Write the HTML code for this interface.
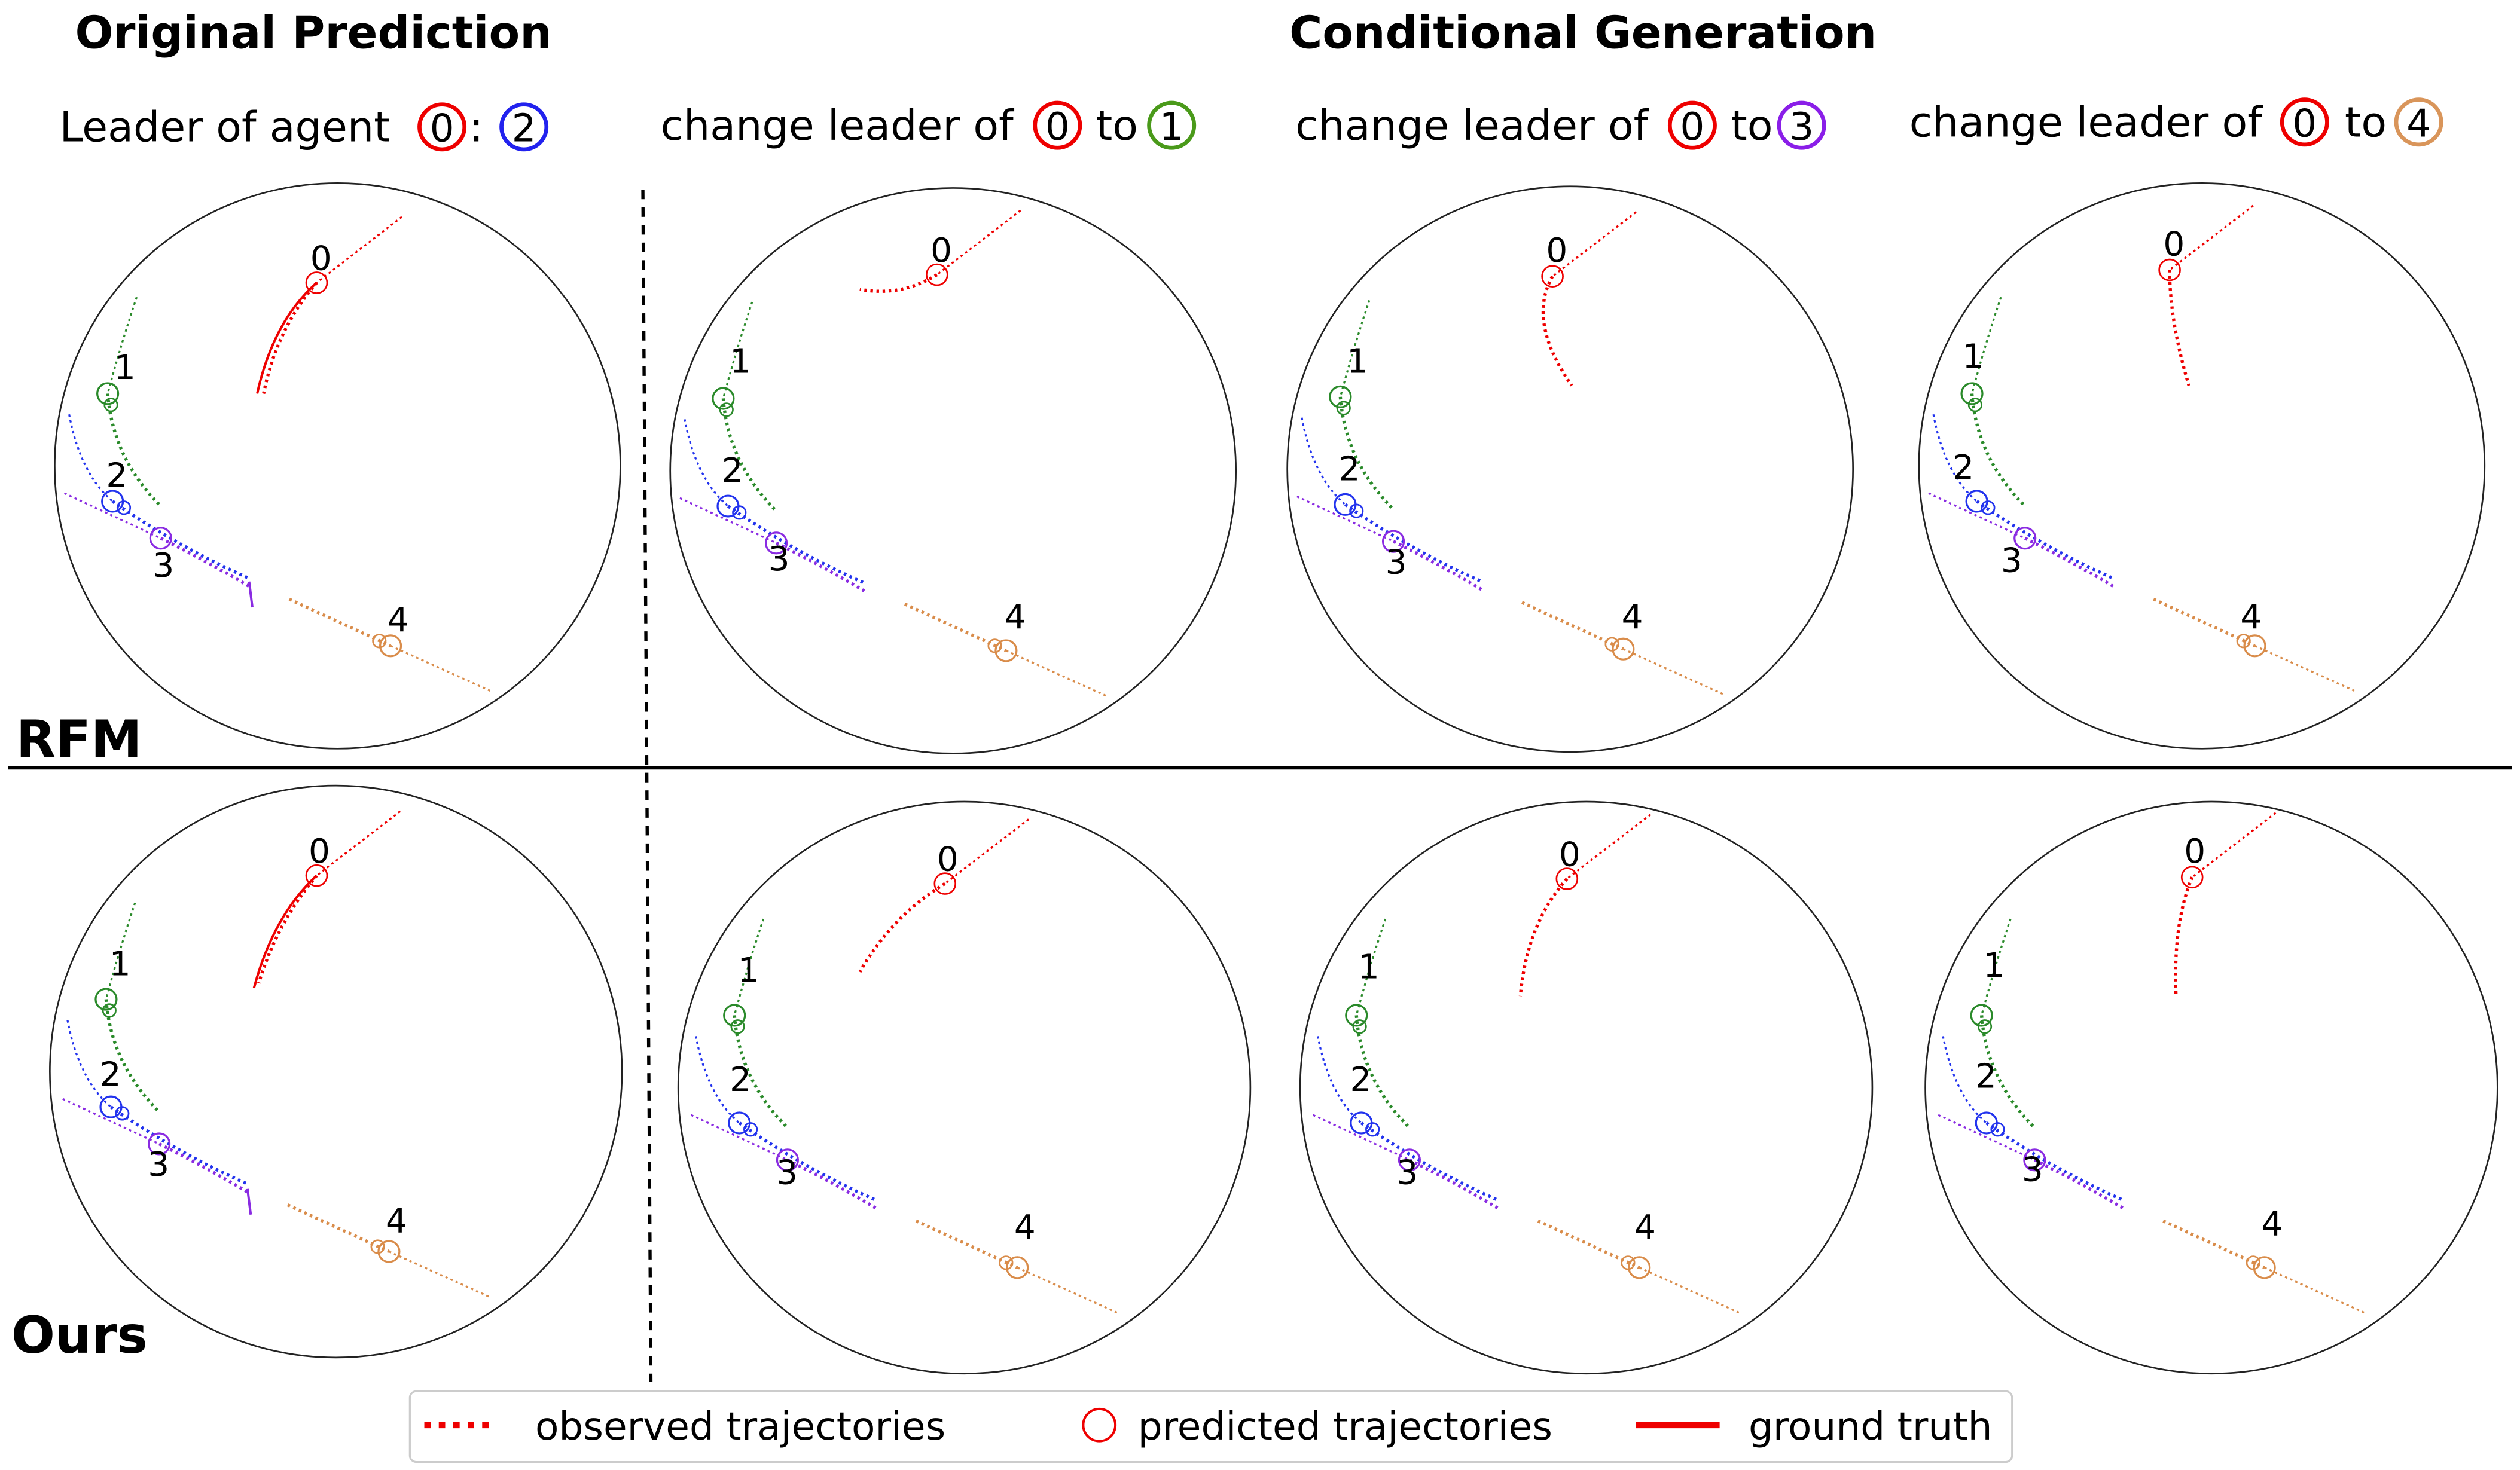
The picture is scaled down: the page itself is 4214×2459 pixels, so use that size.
<!DOCTYPE html>
<html><head><meta charset="utf-8"><style>html,body{margin:0;padding:0;background:#fff}svg{display:block}</style></head>
<body>
<svg width="4214" height="2459" viewBox="0 0 1568 915" xmlns="http://www.w3.org/2000/svg" font-family="'DejaVu Sans', 'Liberation Sans', sans-serif">
<defs>
<g id="ag" fill="none">
  <path d="M-125,-105 Q-135,-75 -143,-45" stroke="#2a8a2a" stroke-width="1.2" stroke-dasharray="1.5 2"/>
  <path d="M-143,-45 Q-140,-5 -110,25" stroke="#2a8a2a" stroke-width="2" stroke-dasharray="1.6 2.2"/>
  <circle cx="-143" cy="-45" r="6.5" stroke="#2a8a2a" stroke-width="1.2"/>
  <circle cx="-141" cy="-38" r="4" stroke="#2a8a2a" stroke-width="1"/>
  <path d="M-167,-32 Q-160,5 -140,22" stroke="#2233ee" stroke-width="1.2" stroke-dasharray="1.5 2"/>
  <path d="M-140,22 Q-100,50 -55,70" stroke="#2233ee" stroke-width="2" stroke-dasharray="1.6 2.2"/>
  <circle cx="-140" cy="22" r="6.5" stroke="#2233ee" stroke-width="1.2"/>
  <circle cx="-133" cy="26" r="4" stroke="#2233ee" stroke-width="1"/>
  <path d="M-170,17 L-110,45" stroke="#8a2be2" stroke-width="1.2" stroke-dasharray="1.5 2"/>
  <path d="M-110,45 Q-80,60 -55,75" stroke="#8a2be2" stroke-width="2" stroke-dasharray="1.6 2.2"/>
  <circle cx="-110" cy="45" r="6.5" stroke="#8a2be2" stroke-width="1.2"/>
  <path d="M-30,83 L33,112" stroke="#d98c4a" stroke-width="2" stroke-dasharray="1.6 2.2"/>
  <circle cx="33" cy="112" r="6.5" stroke="#d98c4a" stroke-width="1.2"/>
  <circle cx="26" cy="109" r="4" stroke="#d98c4a" stroke-width="1"/>
  <path d="M33,112 L95,140" stroke="#d98c4a" stroke-width="1.2" stroke-dasharray="1.5 2"/>
</g>
</defs>
<g font-weight="bold" font-size="28" text-anchor="middle">
<text x="195" y="30">Original Prediction</text>
<text x="985" y="30">Conditional Generation</text>
</g>
<g font-size="26">
<text x="37" y="88">Leader of agent</text><text x="292" y="88">:</text>
<text x="411" y="87">change leader of</text><text x="682" y="87">to</text>
<text x="806" y="87">change leader of</text><text x="1077" y="87">to</text>
<text x="1188" y="85">change leader of</text><text x="1459" y="85">to</text>
</g>
<g fill="none" stroke-width="2.5">
<circle cx="275" cy="79" r="14" stroke="#e00"/><circle cx="326" cy="79" r="14" stroke="#22e"/>
<circle cx="658" cy="78" r="14" stroke="#e00"/><circle cx="729" cy="78" r="14" stroke="#4a9a1a"/>
<circle cx="1053" cy="78" r="14" stroke="#e00"/><circle cx="1121" cy="78" r="14" stroke="#8a1ee8"/>
<circle cx="1434" cy="76" r="14" stroke="#e00"/><circle cx="1505" cy="76" r="14" stroke="#d9955a"/>
</g>
<g font-size="24" text-anchor="middle">
<text x="275" y="88">0</text><text x="326" y="88">2</text>
<text x="658" y="87">0</text><text x="729" y="87">1</text>
<text x="1053" y="87">0</text><text x="1121" y="87">3</text>
<text x="1434" y="85">0</text><text x="1505" y="85">4</text>
</g>
<line x1="400" y1="118" x2="405" y2="860" stroke="#000" stroke-width="2" stroke-dasharray="6 5"/>
<line x1="5" y1="478" x2="1563" y2="478" stroke="#000" stroke-width="2"/>
<g font-weight="bold" font-size="32"><text x="10" y="471">RFM</text><text x="7" y="842">Ours</text></g>

<g fill="none" stroke="#222" stroke-width="1">
<circle cx="210" cy="290" r="176"/><circle cx="593" cy="293" r="176"/><circle cx="977" cy="292" r="176"/><circle cx="1370" cy="290" r="176"/>
<circle cx="209" cy="667" r="178"/><circle cx="600" cy="677" r="178"/><circle cx="987" cy="677" r="178"/><circle cx="1376" cy="677" r="178"/>
</g>
<use href="#ag" transform="translate(210,290)"/>
<use href="#ag" transform="translate(593,293)"/>
<use href="#ag" transform="translate(977,292)"/>
<use href="#ag" transform="translate(1370,290)"/>
<use href="#ag" transform="translate(209,667)"/>
<use href="#ag" transform="translate(600,677)"/>
<use href="#ag" transform="translate(987,677)"/>
<use href="#ag" transform="translate(1376,677)"/>
<g stroke="#8a2be2" stroke-width="1.5" fill="none"><path d="M155,362 L157,378"/><path d="M154,740 L156,756"/></g>
<g fill="none" stroke="#e00">
<path d="M250,135 L197,176" stroke-width="1.2" stroke-dasharray="1.5 2"/><path d="M197,176 Q170,200 160,245" stroke-width="1.5"/><path d="M197,176 Q172,205 164,245" stroke-width="2" stroke-dasharray="1.6 2.2"/><circle cx="197" cy="176" r="6.5"/>
<path d="M635,131 L583,171" stroke-width="1.2" stroke-dasharray="1.5 2"/><path d="M583,171 Q560,185 535,180" stroke-width="2" stroke-dasharray="1.6 2.2"/><circle cx="583" cy="171" r="6.5"/>
<path d="M1018,132 L966,172" stroke-width="1.2" stroke-dasharray="1.5 2"/><path d="M966,172 Q950,200 978,240" stroke-width="2" stroke-dasharray="1.6 2.2"/><circle cx="966" cy="172" r="6.5"/>
<path d="M1402,128 L1350,168" stroke-width="1.2" stroke-dasharray="1.5 2"/><path d="M1350,168 Q1350,200 1362,240" stroke-width="2" stroke-dasharray="1.6 2.2"/><circle cx="1350" cy="168" r="6.5"/>
<path d="M249,505 L197,545" stroke-width="1.2" stroke-dasharray="1.5 2"/><path d="M197,545 Q170,570 158,615" stroke-width="1.5"/><path d="M197,545 Q172,575 161,612" stroke-width="2" stroke-dasharray="1.6 2.2"/><circle cx="197" cy="545" r="6.5"/>
<path d="M640,510 L588,550" stroke-width="1.2" stroke-dasharray="1.5 2"/><path d="M588,550 Q555,570 535,605" stroke-width="2" stroke-dasharray="1.6 2.2"/><circle cx="588" cy="550" r="6.5"/>
<path d="M1027,507 L975,547" stroke-width="1.2" stroke-dasharray="1.5 2"/><path d="M975,547 Q950,575 946,620" stroke-width="2" stroke-dasharray="1.6 2.2"/><circle cx="975" cy="547" r="6.5"/>
<path d="M1416,506 L1364,546" stroke-width="1.2" stroke-dasharray="1.5 2"/><path d="M1364,546 Q1352,575 1354,620" stroke-width="2" stroke-dasharray="1.6 2.2"/><circle cx="1364" cy="546" r="6.5"/>
</g>
<g font-size="21">
<text x="193" y="168">0</text><text x="71" y="236">1</text><text x="66" y="303">2</text><text x="95" y="359">3</text><text x="241" y="393">4</text>
<text x="579" y="163">0</text><text x="454" y="232">1</text><text x="449" y="300">2</text><text x="478" y="355">3</text><text x="625" y="391">4</text>
<text x="962" y="163">0</text><text x="838" y="232">1</text><text x="833" y="299">2</text><text x="862" y="357">3</text><text x="1009" y="391">4</text>
<text x="1346" y="159">0</text><text x="1221" y="229">1</text><text x="1215" y="298">2</text><text x="1245" y="356">3</text><text x="1394" y="391">4</text>
<text x="192" y="537">0</text><text x="68" y="607">1</text><text x="62" y="676">2</text><text x="92" y="732">3</text><text x="240" y="767">4</text>
<text x="583" y="542">0</text><text x="459" y="611">1</text><text x="454" y="679">2</text><text x="483" y="737">3</text><text x="631" y="771">4</text>
<text x="970" y="539">0</text><text x="845" y="609">1</text><text x="840" y="679">2</text><text x="869" y="737">3</text><text x="1017" y="771">4</text>
<text x="1359" y="537">0</text><text x="1234" y="608">1</text><text x="1229" y="677">2</text><text x="1258" y="735">3</text><text x="1407" y="769">4</text>
</g>
<rect x="255" y="866" width="997" height="44" rx="4" fill="#fff" stroke="#ccc" stroke-width="1.2"/>
<line x1="264" y1="887" x2="306" y2="887" stroke="#e00" stroke-width="4" stroke-dasharray="4 5"/>
<circle cx="684" cy="887" r="10" fill="none" stroke="#e00" stroke-width="1.5"/>
<line x1="1018" y1="887" x2="1070" y2="887" stroke="#e00" stroke-width="4"/>
<g font-size="24"><text x="333" y="896">observed trajectories</text><text x="708" y="896">predicted trajectories</text><text x="1088" y="896">ground truth</text></g>
</svg>
</body></html>
